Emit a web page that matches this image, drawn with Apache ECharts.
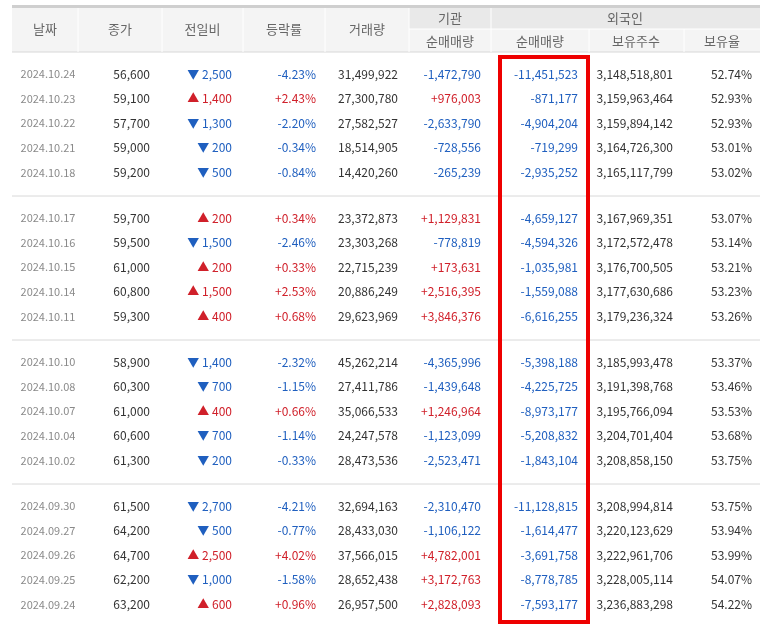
<!DOCTYPE html>
<html><head><meta charset="utf-8">
<script src="https://cdn.jsdelivr.net/npm/echarts@6/dist/echarts.min.js"></script>
<style>html,body{margin:0;padding:0;background:#fff}#c{width:767px;height:626px}</style>
</head><body><div id="c"></div>
<script>
var dates = ['2024.10.24','2024.10.23','2024.10.22','2024.10.21','2024.10.18','2024.10.17','2024.10.16','2024.10.15','2024.10.14','2024.10.11','2024.10.10','2024.10.08','2024.10.07','2024.10.04','2024.10.02','2024.09.30','2024.09.27','2024.09.26','2024.09.25','2024.09.24'];
var closes = ['56,600','59,100','57,700','59,000','59,200','59,700','59,500','61,000','60,800','59,300','58,900','60,300','61,000','60,600','61,300','61,500','64,200','64,700','62,200','63,200'];
var changes = [-2500,1400,-1300,-200,-500,200,-1500,200,1500,400,-1400,-700,400,-700,-200,-2700,-500,2500,-1000,600];
var rates = ['-4.23%','+2.43%','-2.20%','-0.34%','-0.84%','+0.34%','-2.46%','+0.33%','+2.53%','+0.68%','-2.32%','-1.15%','+0.66%','-1.14%','-0.33%','-4.21%','-0.77%','+4.02%','-1.58%','+0.96%'];
var volumes = ['31,499,922','27,300,780','27,582,527','18,514,905','14,420,260','23,372,873','23,303,268','22,715,239','20,886,249','29,623,969','45,262,214','27,411,786','35,066,533','24,247,578','28,473,536','32,694,163','28,433,030','37,566,015','28,652,438','26,957,500'];
var inst = ['-1,472,790','+976,003','-2,633,790','-728,556','-265,239','+1,129,831','-778,819','+173,631','+2,516,395','+3,846,376','-4,365,996','-1,439,648','+1,246,964','-1,123,099','-2,523,471','-2,310,470','-1,106,122','+4,782,001','+3,172,763','+2,828,093'];
var foreign = ['-11,451,523','-871,177','-4,904,204','-719,299','-2,935,252','-4,659,127','-4,594,326','-1,035,981','-1,559,088','-6,616,255','-5,398,188','-4,225,725','-8,973,177','-5,208,832','-1,843,104','-11,128,815','-1,614,477','-3,691,758','-8,778,785','-7,593,177'];
var holdings = ['3,148,518,801','3,159,963,464','3,159,894,142','3,164,726,300','3,165,117,799','3,167,969,351','3,172,572,478','3,176,700,505','3,177,630,686','3,179,236,324','3,185,993,478','3,191,398,768','3,195,766,094','3,204,701,404','3,208,858,150','3,208,994,814','3,220,123,629','3,222,961,706','3,228,005,114','3,236,883,298'];
var ratios = ['52.74%','52.93%','52.93%','53.01%','53.02%','53.07%','53.14%','53.21%','53.23%','53.26%','53.37%','53.46%','53.53%','53.68%','53.75%','53.75%','53.94%','53.99%','54.07%','54.22%'];

var BLUE = '#1f5fbf', RED = '#d0202a';
var colX = [12, 78, 162, 243, 325, 409, 491, 589, 684, 760];
var g = [];
function txt(x, y, s, color, align, size) {
  g.push({type:'text', x:x, y:y, style:{text:s, fill:color, align:align||'right', verticalAlign:'middle',
    font:(size||12)+'px "Noto Sans CJK KR", "Liberation Sans", sans-serif'}});
}
function rect(x, y, w, h, fill) { g.push({type:'rect', shape:{x:x,y:y,width:w,height:h}, style:{fill:fill}}); }
function line(x1, y1, x2, y2, c, w) { g.push({type:'line', shape:{x1:x1,y1:y1,x2:x2,y2:y2}, style:{stroke:c, lineWidth:w||1}}); }
function sc(s) { return s.charAt(0) === '+' ? RED : BLUE; }

// header
rect(12, 6, 748, 46, '#f4f4f4');
rect(409, 6, 351, 23, '#e9e9e9');
line(12, 6.5, 760, 6.5, '#cfcfcf', 3);
line(12, 52, 760, 52, '#d8d8d8', 1);
line(409, 29, 760, 29, '#ffffff', 1);
for (var i = 1; i < colX.length - 1; i++) {
  var divTop = (i === 7 || i === 8) ? 29 : 8;
  line(colX[i], divTop, colX[i], 52, '#ffffff', 1);
}
var heads = ['날짜','종가','전일비','등락률','거래량'];
heads.forEach(function (h, i) { txt((colX[i] + colX[i + 1]) / 2, 29, h, '#666', 'center', 13); });
txt(450, 18, '기관', '#666', 'center', 13);
txt(625, 18, '외국인', '#666', 'center', 13);
txt(450, 41, '순매매량', '#666', 'center', 13);
txt(540, 41, '순매매량', '#666', 'center', 13);
txt(636, 41, '보유주수', '#666', 'center', 13);
txt(722, 41, '보유율', '#666', 'center', 13);

// rows
dates.forEach(function (d, i) {
  var grp = Math.floor(i / 5), k = i % 5;
  var y = 74 + grp * 144 + k * 24.6;
  if (k === 0 && grp > 0) line(12, y - 22, 760, y - 22, '#d8d8d8', 1);
  txt(48, y, d, '#8a8a8a', 'center', 11);
  txt(150, y, closes[i], '#333');
  var up = changes[i] > 0;
  txt(232, y, (up ? '▲ ' : '▼ ') + Math.abs(changes[i]).toLocaleString('en-US'), up ? RED : BLUE);
  txt(316, y, rates[i], sc(rates[i]));
  txt(398, y, volumes[i], '#333');
  txt(481, y, inst[i], sc(inst[i]));
  txt(578, y, foreign[i], sc(foreign[i]));
  txt(673, y, holdings[i], '#333');
  txt(752, y, ratios[i], '#333');
});
g.push({type:'rect', shape:{x:500, y:57, width:88, height:565}, style:{fill:'none', stroke:'#ee0000', lineWidth:4}});

var chart = echarts.init(document.getElementById('c'));
chart.setOption({graphic: g});
</script></body></html>
